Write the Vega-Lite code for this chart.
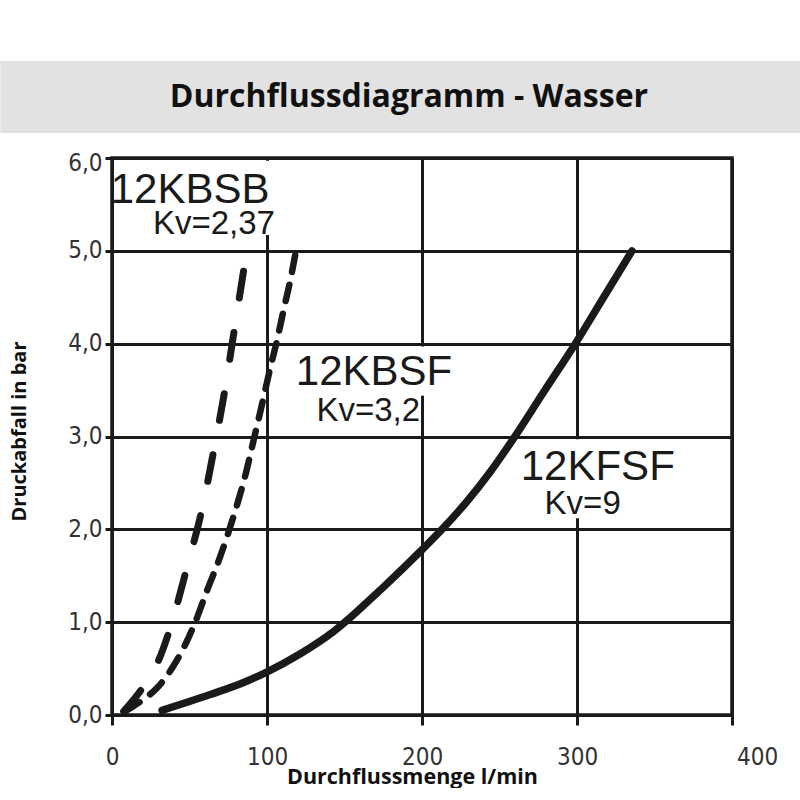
{
  "$schema": "https://vega.github.io/schema/vega-lite/v6.json",
  "background": "white",
  "padding": {"left": 0, "top": 60, "right": 0, "bottom": 0},
  "width": 620,
  "height": 557,
  "view": {"stroke": "#1a1a1a", "strokeWidth": 3.5},
  "datasets": {
    "band": [{"x": -72.06, "x2": 444.06, "y": 7.045, "y2": 6.27}],
    "heading": [{"title": "Durchflussdiagramm - Wasser", "x": 191.6, "y": 6.657}],
    "kbsb": [
      {"x": 7.5, "y": 0.04}, {"x": 20.4, "y": 0.31}, {"x": 30.1, "y": 0.59},
      {"x": 37.6, "y": 0.94}, {"x": 47.9, "y": 1.56}, {"x": 58.1, "y": 2.22},
      {"x": 66.0, "y": 2.88}, {"x": 72.6, "y": 3.48}, {"x": 79.1, "y": 4.17},
      {"x": 85.5, "y": 4.85}
    ],
    "kbsf": [
      {"x": 8.6, "y": 0.04}, {"x": 20.4, "y": 0.17}, {"x": 29.0, "y": 0.29},
      {"x": 39.7, "y": 0.53}, {"x": 47.3, "y": 0.76}, {"x": 53.7, "y": 1.0},
      {"x": 61.3, "y": 1.34}, {"x": 68.8, "y": 1.66}, {"x": 74.2, "y": 1.92},
      {"x": 80.6, "y": 2.26}, {"x": 86.0, "y": 2.58}, {"x": 90.8, "y": 2.92},
      {"x": 97.8, "y": 3.42}, {"x": 101.7, "y": 3.71}, {"x": 106.5, "y": 4.04},
      {"x": 110.7, "y": 4.36}, {"x": 115.0, "y": 4.68}, {"x": 118.7, "y": 5.0}
    ],
    "kfsf": [
      {"x": 32.3, "y": 0.05}, {"x": 63.4, "y": 0.22}, {"x": 84.9, "y": 0.35},
      {"x": 99.5, "y": 0.46}, {"x": 121.5, "y": 0.66}, {"x": 143.0, "y": 0.9},
      {"x": 175.2, "y": 1.38}, {"x": 200.0, "y": 1.78},
      {"x": 211.8, "y": 1.98}, {"x": 229.0, "y": 2.3}, {"x": 244.1, "y": 2.62},
      {"x": 259.1, "y": 2.98}, {"x": 278.5, "y": 3.48}, {"x": 298.9, "y": 4.0},
      {"x": 317.2, "y": 4.5}, {"x": 335.5, "y": 5.0}
    ],
    "labels": [
      {"label": "12KBSB", "x": -0.8, "y": 5.51, "kind": "name"},
      {"label": "Kv=2,37", "x": 26.4, "y": 5.18, "kind": "kv"},
      {"label": "12KBSF", "x": 118.6, "y": 3.55, "kind": "name"},
      {"label": "Kv=3,2", "x": 131.9, "y": 3.17, "kind": "kv"},
      {"label": "12KFSF", "x": 263.7, "y": 2.53, "kind": "name"},
      {"label": "Kv=9", "x": 279.1, "y": 2.17, "kind": "kv"}
    ],
    "masks": [
      {"x": 2, "x2": 108, "y": 5.17, "y2": 5.97},
      {"x": 118, "x2": 226, "y": 3.44, "y2": 3.97},
      {"x": 262, "x2": 370, "y": 2.12, "y2": 2.97}
    ]
  },
  "encoding": {
    "x": {
      "field": "x",
      "type": "quantitative",
      "title": "Durchflussmenge l/min",
      "scale": {"domain": [0, 400], "nice": false, "zero": false},
      "axis": {
        "values": [0, 100, 200, 300, 400],
        "grid": true,
        "gridColor": "#1a1a1a",
        "gridWidth": 3,
        "gridOpacity": 1,
        "domain": false,
        "tickSize": 10,
        "tickWidth": 3,
        "tickColor": "#1a1a1a",
        "labelFont": "'Liberation Sans Narrow', 'DejaVu Sans Condensed', sans-serif",
        "labelFontSize": 24,
        "labelColor": "#333333",
        "labelPadding": 20,
        "labelFlush": false,
        "labelOverlap": false,
        "labelOffset": {"condition": {"test": "datum.value == 400", "value": 25}, "value": 0},
        "titleFont": "Open Sans",
        "titleFontWeight": "bold",
        "titleFontSize": 21.5,
        "titleColor": "#111111",
        "titleX": 300,
        "titleY": 68,
        "titleAlign": "center",
        "titleBaseline": "alphabetic"
      }
    },
    "y": {
      "field": "y",
      "type": "quantitative",
      "title": "Druckabfall in bar",
      "scale": {"domain": [0, 6], "nice": false},
      "axis": {
        "values": [0, 1, 2, 3, 4, 5, 6],
        "labelExpr": "replace(format(datum.value, '.1f'), '.', ',')",
        "grid": true,
        "gridColor": "#1a1a1a",
        "gridWidth": 3,
        "gridOpacity": 1,
        "domain": false,
        "tickSize": 7,
        "tickWidth": 3,
        "tickColor": "#1a1a1a",
        "labelFont": "'Liberation Sans Narrow', 'DejaVu Sans Condensed', sans-serif",
        "labelFontSize": 24,
        "labelColor": "#333333",
        "labelPadding": 3,
        "labelOverlap": false,
        "labelFlush": false,
        "labelOffset": {"condition": {"test": "datum.value == 6", "value": 5}, "value": 0},
        "titleFont": "Open Sans",
        "titleFontWeight": "bold",
        "titleFontSize": 20,
        "titleColor": "#111111",
        "titlePadding": 38,
        "titleY": 273
      }
    }
  },
  "layer": [
    {
      "data": {"name": "band"},
      "mark": {"type": "rect", "color": "#e2e2e2", "clip": false},
      "encoding": {"x2": {"field": "x2"}, "y2": {"field": "y2"}}
    },
    {
      "data": {"name": "heading"},
      "mark": {
        "type": "text",
        "clip": false,
        "font": "Open Sans",
        "fontWeight": "bold",
        "fontSize": 32,
        "color": "#111111",
        "baseline": "middle",
        "align": "center"
      },
      "encoding": {"text": {"field": "title"}}
    },
    {
      "data": {"name": "masks"},
      "mark": {"type": "rect", "color": "white"},
      "encoding": {"x2": {"field": "x2"}, "y2": {"field": "y2"}}
    },
    {
      "data": {"name": "kbsb"},
      "mark": {
        "type": "line",
        "color": "#1a1a1a",
        "strokeWidth": 7,
        "strokeDash": [27, 35],
        "strokeCap": "round",
        "interpolate": "monotone"
      },
      "encoding": {}
    },
    {
      "data": {"name": "kbsf"},
      "mark": {
        "type": "line",
        "color": "#1a1a1a",
        "strokeWidth": 6.5,
        "strokeDash": [17, 13],
        "strokeCap": "round",
        "interpolate": "monotone"
      },
      "encoding": {}
    },
    {
      "data": {"name": "kfsf"},
      "mark": {
        "type": "line",
        "color": "#1a1a1a",
        "strokeWidth": 7.5,
        "strokeCap": "round",
        "interpolate": "monotone"
      },
      "encoding": {}
    },
    {
      "data": {"name": "labels"},
      "mark": {
        "type": "text",
        "align": "left",
        "baseline": "alphabetic",
        "font": "Liberation Sans",
        "color": "#1a1a1a"
      },
      "encoding": {
        "text": {"field": "label"},
        "size": {"condition": {"test": "datum.kind == 'name'", "value": 42}, "value": 33}
      }
    }
  ],
  "config": {"font": "Liberation Sans"}
}
